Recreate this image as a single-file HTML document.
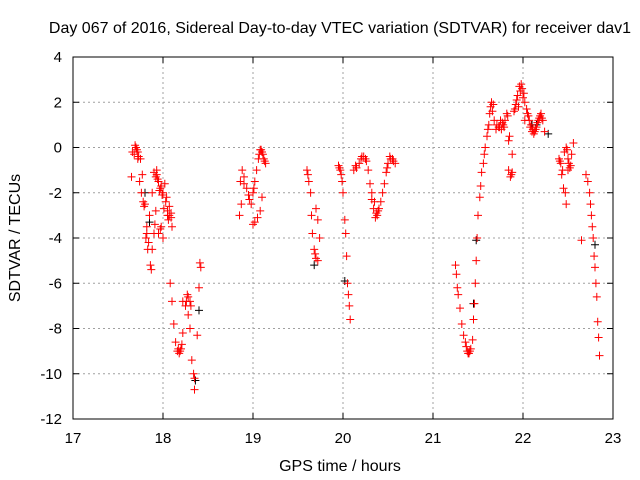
<!DOCTYPE html>
<html><head><meta charset="utf-8"><style>
body{margin:0;background:#fff}
svg{display:block;font-family:"Liberation Sans",sans-serif}
</style></head><body>
<svg id="chart" width="640" height="480">
<text x="340" y="33" font-size="16" text-anchor="middle">Day 067 of 2016, Sidereal Day-to-day VTEC variation (SDTVAR) for receiver dav1</text>
<text x="340" y="471" font-size="16" text-anchor="middle">GPS time / hours</text>
<text x="20" y="238" font-size="16" text-anchor="middle" transform="rotate(-90 20 238)">SDTVAR / TECUs</text>
<g id="grid"></g><g id="ticks"></g><g id="marks"></g>
<rect x="73" y="57" width="540" height="362" fill="none" stroke="#000"/>
</svg>
<script>
const xTicks=[17,18,19,20,21,22,23];
const yTicks=[4,2,0,-2,-4,-6,-8,-10,-12];
const redHours=[17.65,17.68,17.7,17.72,17.75,17.77,17.8,17.82,17.84,17.86,17.87,17.88,17.9,17.92,17.93,17.95,17.97,17.98,18.0,18.0,18.02,18.04,18.05,18.07,18.1,18.08,18.1,18.12,18.14,18.16,18.18,18.2,18.22,18.25,18.27,18.28,18.3,18.32,18.34,18.35,18.38,18.4,18.42,18.41,18.22,18.3,17.72,17.74,17.76,17.78,17.81,17.83,17.85,17.88,17.9,17.93,17.96,17.99,18.03,18.06,18.09,17.95,17.97,
17.66,17.69,17.71,17.73,17.79,17.82,17.91,17.92,17.94,17.98,18.01,18.05,18.07,18.09,18.17,18.19,18.21,18.26,18.28,18.31,18.35,
18.85,18.86,18.88,18.9,18.93,18.96,18.98,19.0,19.02,19.04,19.06,19.08,19.1,19.12,19.14,19.0,19.02,19.05,19.08,19.1,18.87,18.9,18.95,19.01,19.07,19.09,19.11,19.13,
19.6,19.62,19.64,19.65,19.66,19.68,19.7,19.72,19.7,19.72,19.74,19.61,19.69,
19.95,19.97,19.99,20.0,20.02,20.03,20.04,20.05,20.06,20.07,20.08,19.96,19.98,
20.12,20.15,20.18,20.2,20.23,20.26,20.28,20.3,20.32,20.34,20.36,20.38,20.4,20.42,20.44,20.46,20.48,20.5,20.52,20.55,20.58,20.32,20.35,20.14,20.21,20.25,20.37,20.39,20.49,20.53,20.56,
21.25,21.26,21.27,21.28,21.3,21.32,21.34,21.36,21.38,21.4,21.42,21.44,21.45,21.46,21.47,21.48,21.49,21.5,21.52,21.53,21.54,21.56,21.58,21.6,21.62,21.63,21.65,21.66,21.68,21.7,21.73,21.76,21.78,21.8,21.82,21.84,21.86,21.88,21.9,21.92,21.94,21.96,21.98,22.0,22.02,22.04,22.06,22.08,22.1,22.12,22.14,22.16,22.18,22.2,22.22,22.24,21.75,21.85,21.95,22.02,21.88,21.84,
21.37,21.39,21.41,21.57,21.61,21.64,21.67,21.71,21.74,21.77,21.79,21.83,21.87,21.91,21.93,21.97,21.99,22.01,22.05,22.07,22.09,22.11,22.13,22.15,22.17,22.19,22.21,
22.4,22.42,22.43,22.45,22.47,22.48,22.46,22.48,22.5,22.52,22.54,22.56,22.44,22.5,22.41,22.49,22.51,22.53,
22.65,22.7,22.72,22.74,22.75,22.76,22.77,22.78,22.79,22.8,22.81,22.82,22.83,22.84,22.85];
const redValues=[-1.3,-0.3,0,-0.2,-0.5,-1.2,-2.5,-3.5,-4.2,-5.2,-5.4,-4.5,-3.8,-2.8,-1.2,-1.5,-1.8,-3.5,-4.0,-2.0,-1.6,-2.2,-3.0,-2.6,-3.5,-6.0,-6.8,-7.8,-8.6,-9.0,-9.1,-8.9,-8.2,-7.0,-6.5,-7.4,-8.0,-9.4,-10.0,-10.7,-8.3,-6.2,-5.3,-5.1,-6.8,-6.8,-0.5,-1.5,-2.0,-2.4,-4.0,-4.5,-3.0,-2.0,-1.1,-1.0,-1.9,-2.1,-2.4,-3.2,-3.1,-3.8,-3.6,
-0.2,0.1,-0.1,-0.4,-2.6,-3.8,-3.4,-1.3,-1.4,-1.7,-2.7,-2.8,-3.0,-2.9,-8.9,-9.0,-8.7,-6.8,-6.6,-7.0,-10.2,
-3.0,-1.5,-1.0,-1.6,-1.8,-2.3,-2.5,-2.0,-1.5,-1.0,-0.5,-0.1,-0.2,-0.5,-0.7,-3.4,-3.3,-3.1,-2.8,-2.2,-2.5,-1.3,-2.1,-1.8,-0.3,-0.1,-0.3,-0.6,
-1.0,-1.5,-2.0,-3.0,-3.8,-4.5,-4.9,-5.0,-2.7,-3.2,-4.0,-1.2,-4.7,
-0.8,-1.0,-1.5,-2.0,-3.2,-3.8,-4.8,-6.0,-6.5,-7.0,-7.6,-0.9,-1.2,
-1.0,-0.9,-0.7,-0.5,-0.4,-0.6,-1.0,-1.6,-2.3,-2.7,-3.1,-3.0,-2.7,-2.4,-2.0,-1.6,-1.1,-0.7,-0.4,-0.5,-0.7,-2.0,-2.4,-0.8,-0.4,-0.5,-2.9,-2.8,-0.9,-0.5,-0.6,
-5.2,-5.6,-6.2,-6.5,-7.1,-7.8,-8.3,-8.6,-9.0,-9.1,-8.9,-8.5,-7.6,-6.9,-6.0,-5.0,-4.0,-3.0,-2.2,-1.7,-1.1,-0.7,0.0,0.5,1.0,1.5,2.0,1.6,1.2,0.8,0.9,0.8,1.0,1.2,1.5,-1.0,-1.3,-1.1,1.6,1.9,2.3,2.7,2.8,2.2,2.0,1.7,1.4,0.9,0.7,0.6,0.8,1.1,1.3,1.5,1.2,0.7,1.2,0.5,1.8,1.2,-0.3,0.3,
-8.8,-9.1,-9.0,-0.3,0.8,1.8,1.9,1.0,0.9,1.1,0.9,1.4,-1.2,1.7,2.1,2.5,2.6,2.4,1.5,1.2,1.0,0.8,0.7,0.9,1.2,1.4,1.3,
-0.5,-0.7,-1.2,-1.8,-2.0,-2.5,-0.2,0.0,-0.5,-0.9,-0.3,0.2,-1.0,-1.0,-0.6,-0.1,-0.7,-0.8,
-4.1,-1.2,-1.5,-2.0,-2.5,-3.0,-3.5,-4.0,-4.8,-5.3,-6.0,-6.6,-7.7,-8.4,-9.2];
const blackHours=[17.8,17.85,18.36,18.4,19.68,20.02,21.45,21.48,22.1,22.28,22.8,22.15];
const blackValues=[-2.0,-3.3,-10.3,-7.2,-5.2,-5.9,-6.9,-4.1,1.0,0.6,-4.3,1.0];
const NS="http://www.w3.org/2000/svg";
const X=h=>73+(h-17)*90, Y=v=>57+(4-v)*362/16;
const grid=document.getElementById('grid'),ticks=document.getElementById('ticks'),marks=document.getElementById('marks');
function mk(tag,at,parent){const e=document.createElementNS(NS,tag);for(const k in at)e.setAttribute(k,at[k]);parent.appendChild(e);return e;}
xTicks.forEach(t=>{const x=X(t);
 if(t>17&&t<23){const g=mk('line',{x1:x,x2:x,y1:57,y2:419,stroke:'#a0a0a0','stroke-dasharray':'2,3'},grid);
 
 }
 mk('line',{x1:x,x2:x,y1:419,y2:413,stroke:'#000'},ticks);mk('line',{x1:x,x2:x,y1:57,y2:63,stroke:'#000'},ticks);
 const l=mk('text',{x:x,y:443,'font-size':15,'text-anchor':'middle'},ticks);l.textContent=t;
 
 });
yTicks.forEach(t=>{const y=Y(t);
 if(t<4&&t>-12){const g=mk('line',{x1:73,x2:613,y1:y,y2:y,stroke:'#a0a0a0','stroke-dasharray':'2,3'},grid);
 
 }
 mk('line',{x1:73,x2:79,y1:y,y2:y,stroke:'#000'},ticks);mk('line',{x1:613,x2:607,y1:y,y2:y,stroke:'#000'},ticks);
 const l=mk('text',{x:62,y:y+5,'font-size':15,'text-anchor':'end'},ticks);l.textContent=t;
 
 });
function plus(h,v,c){const x=X(h),y=Y(v);
 const p=mk('path',{d:`M${x-4},${y}H${x+4}M${x},${y-4}V${y+4}`,stroke:c,'stroke-width':1},marks);
 
 }
blackHours.forEach((h,i)=>plus(h,blackValues[i],'#000'));
redHours.forEach((h,i)=>plus(h,redValues[i],'#f00'));
</script>
</body></html>
